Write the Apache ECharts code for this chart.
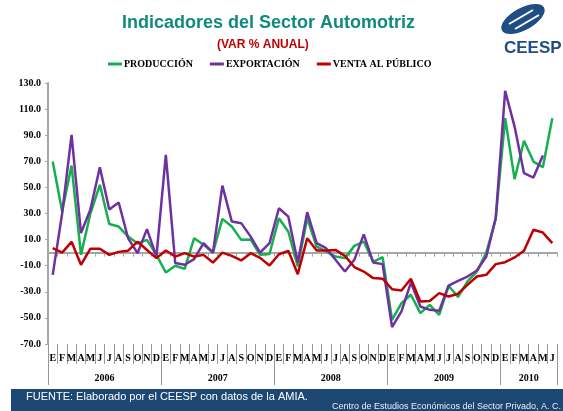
<!DOCTYPE html>
<html>
<head>
<meta charset="utf-8">
<script src="https://cdn.jsdelivr.net/npm/echarts@6/dist/echarts.min.js"></script>
<style>
    html, body { margin: 0; padding: 0; background: #fff; }
    #chart { width: 563px; height: 411px; }
</style>
</head>
<body>
<div id="chart"></div>
<script>
// Meses (ene 2006 - jun 2010)
const meses = [
    'E','F','M','A','M','J','J','A','S','O','N','D',
    'E','F','M','A','M','J','J','A','S','O','N','D',
    'E','F','M','A','M','J','J','A','S','O','N','D',
    'E','F','M','A','M','J','J','A','S','O','N','D',
    'E','F','M','A','M','J'
];
// etiquetas de año, en la posición del centro de cada año
const anios = { 6: '2006', 18: '2007', 30: '2008', 42: '2009', 51: '2010' };

const produccion = [
    69.8, 31.5, 66.7, -1.7, 30, 52, 22, 20, 12.3, 7, 9.8, -1.7,
    -15.2, -10, -12.4, 11, 6, 0, 25.9, 20, 9.8, 10, -1.7, -1,
    26.4, 16, -10.6, 26.4, 4.7, 1, -3, -4.2, 5.2, 8.5, -7, -3.4,
    -51.5, -38.7, -32.3, -46.3, -40, -47.6, -25.4, -34, -22, -14.5, 0, 26,
    103, 56.3, 85.8, 69.8, 65.5, 103
];
const exportacion = [
    -17, 30, 90.2, 15, 33, 65.5, 33, 38.4, 11, -0.4, 18, -3,
    74.9, -8, -9.3, -5, 7.3, 0, 51.4, 23.8, 22.6, 12.3, 0, 7.3,
    34, 27.6, -7.5, 31, 7.3, 3.4, -5.5, -14.5, -5.5, 14, -7.5, -8.8,
    -57, -45, -22.9, -41.3, -43.8, -44.6, -25.2, -21.6, -18.3, -13.7, -3, 26.4,
    124, 96.6, 60.9, 57.5, 74.4, null
];
const ventaPublico = [
    3.4, 0, 8.3, -9.3, 3, 3, -1.7, 0.6, 1.5, 8.5, 2, -4.2,
    1.6, -3, -0.4, -3, -1.7, -7.6, 0, -2.5, -6, -0.4, -4, -9.9,
    -1.2, 1.4, -16.5, 11, 1.6, 1.6, 2.1, -2.5, -11, -14.5, -19.5, -20,
    -28, -29, -20, -37.4, -37, -31, -33.6, -31.5, -24.7, -18.3, -17, -8.8,
    -7.3, -3.7, 1.4, 17.5, 15.4, 7.3
];

const serif = 'Liberation Serif';
const sans = 'Liberation Sans';

const chart = echarts.init(document.getElementById('chart'));

const option = {
    backgroundColor: '#ffffff',
    animation: false,
    title: [
        {
            text: 'Indicadores del Sector Automotriz',
            left: 122, top: 14, padding: 0,
            textStyle: { fontFamily: sans, fontSize: 18, fontWeight: 'bold', color: '#0f8a7d' }
        },
        {
            text: '(VAR % ANUAL)',
            left: 217, top: 39, padding: 0,
            textStyle: { fontFamily: sans, fontSize: 12, fontWeight: 'bold', color: '#c00000' }
        }
    ],
    legend: {
        left: 108, top: 59, padding: 0,
        icon: 'rect', itemWidth: 14, itemHeight: 3, itemGap: 17,
        textStyle: { fontFamily: serif, fontSize: 10, fontWeight: 'bold', color: '#000', padding: [0, 0, 0, -3] },
        data: ['PRODUCCIÓN', 'EXPORTACIÓN', 'VENTA AL PÚBLICO']
    },
    grid: { left: 48, right: 6, top: 83, bottom: 67 },
    xAxis: [
        {
            // eje en cero con marcas
            type: 'category', data: meses, boundaryGap: true,
            axisLine: { onZero: true, lineStyle: { color: '#a6a6a6', width: 2 } },
            axisTick: { show: true, length: 4, interval: 0, lineStyle: { color: '#a6a6a6' } },
            axisLabel: { show: false }
        },
        {
            // etiquetas de mes con separadores
            type: 'category', data: meses, boundaryGap: true, position: 'bottom',
            axisLine: { show: false, onZero: false },
            axisTick: { show: true, length: 20, interval: 0, lineStyle: { color: '#999' } },
            axisLabel: { interval: 0, margin: 9, fontFamily: serif, fontSize: 10, fontWeight: 'bold', color: '#000' }
        },
        {
            // etiquetas de año
            type: 'value', min: 0, max: 54, interval: 3, position: 'bottom',
            axisLine: { show: false, onZero: false },
            axisTick: { show: false },
            splitLine: { show: false },
            axisLabel: {
                margin: 29, fontFamily: serif, fontSize: 10, fontWeight: 'bold', color: '#000',
                formatter: v => anios[v] || ''
            }
        },
        {
            // separadores de año
            type: 'value', min: 0, max: 54, interval: 12, position: 'bottom',
            axisLine: { show: false, onZero: false },
            axisTick: { show: true, length: 41, lineStyle: { color: '#999' } },
            splitLine: { show: false },
            axisLabel: { show: false }
        }
    ],
    yAxis: {
        type: 'value', min: -70, max: 130, interval: 20,
        axisLine: { show: true, lineStyle: { color: '#a6a6a6', width: 2 } },
        axisTick: { show: true, length: 3, lineStyle: { color: '#a6a6a6' } },
        splitLine: { show: false },
        axisLabel: {
            margin: 7, fontFamily: serif, fontSize: 10, fontWeight: 'bold', color: '#000',
            formatter: v => v.toFixed(1)
        }
    },
    series: [
        {
            name: 'PRODUCCIÓN', type: 'line', data: produccion, showSymbol: false,
            itemStyle: { color: '#14b050' }, lineStyle: { width: 2.5, color: '#14b050' }
        },
        {
            name: 'EXPORTACIÓN', type: 'line', data: exportacion, showSymbol: false,
            itemStyle: { color: '#7030a0' }, lineStyle: { width: 2.5, color: '#7030a0' }
        },
        {
            name: 'VENTA AL PÚBLICO', type: 'line', data: ventaPublico, showSymbol: false,
            itemStyle: { color: '#c00000' }, lineStyle: { width: 2.5, color: '#c00000' }
        }
    ],
    graphic: [
        // logo CEESP
        {
            type: 'ellipse', shape: { cx: 523, cy: 19, rx: 24, ry: 11 },
            rotation: 0.5, originX: 523, originY: 19,
            style: { fill: '#1f4e84' }
        },
        {
            type: 'line', shape: { x1: 509, y1: 24, x2: 533, y2: 10 },
            style: { stroke: '#fff', lineWidth: 2 }
        },
        {
            type: 'line', shape: { x1: 515, y1: 29, x2: 539, y2: 15 },
            style: { stroke: '#fff', lineWidth: 2 }
        },
        {
            type: 'text', left: 504, top: 40,
            style: { text: 'CEESP', fill: '#1f4e84', font: 'bold 17px "Liberation Sans"' }
        },
        // barra inferior
        {
            type: 'rect', shape: { x: 11, y: 389, width: 552, height: 22 },
            style: { fill: '#1b4772' }
        },
        {
            type: 'text', left: 26, top: 391,
            style: { text: 'FUENTE: Elaborado por el CEESP con datos de la AMIA.', fill: '#fff', font: '11px "Liberation Sans"' }
        },
        {
            type: 'text', right: 2, top: 402,
            style: { text: 'Centro de Estudios Económicos del Sector Privado, A. C.', fill: '#e8eef5', font: '9px "Liberation Sans"' }
        }
    ]
};

chart.setOption(option);
</script>
</body>
</html>
